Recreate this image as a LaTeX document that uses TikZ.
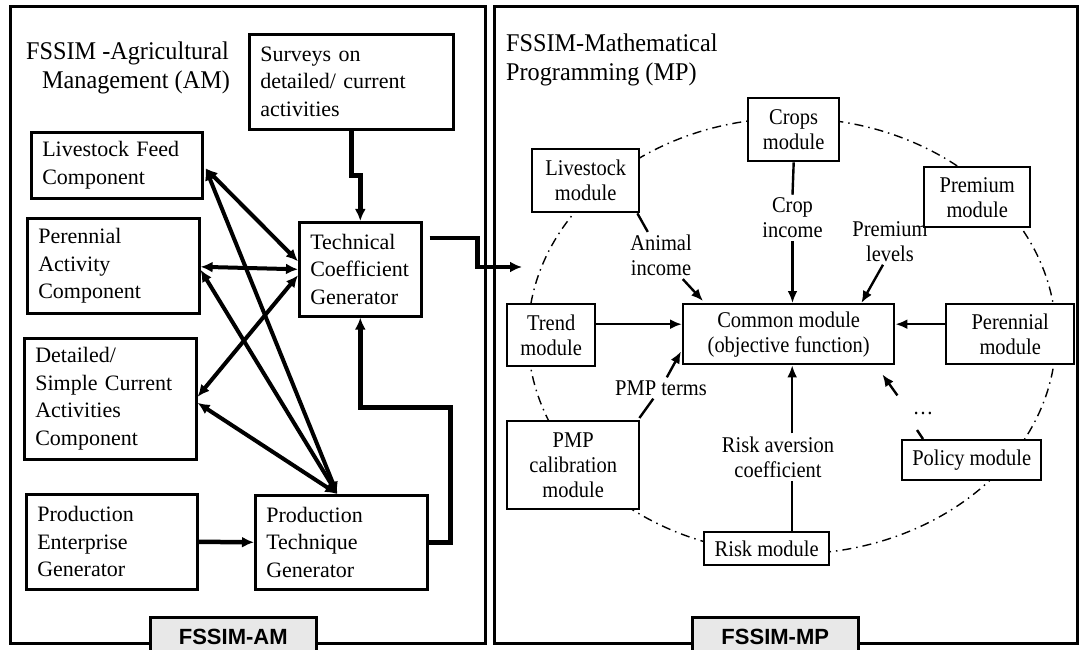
\documentclass[tikz,border=0pt]{standalone}
\usepackage{fontspec}
\setmainfont{Liberation Serif}
\setsansfont{Liberation Sans}
\newfontfamily\narrowserif[FakeStretch=0.91]{Liberation Serif}
\newfontfamily\titleserif[FakeStretch=0.95]{Liberation Serif}
\usetikzlibrary{arrows.meta,calc}

\begin{document}
\begin{tikzpicture}[x=1pt,y=-1pt,
  frame/.style={draw, line width=3pt},
  tag/.style={draw, line width=2.5pt, fill=black!9, anchor=north west, inner sep=0pt,
    font=\sffamily\bfseries\fontsize{22}{26}\selectfont},
  title/.style={anchor=base west, inner sep=0pt, font=\titleserif\fontsize{25.5}{29}\selectfont},
  lbox/.style={draw, line width=2.6pt, fill=white, anchor=north west, align=left,
    inner xsep=11pt, inner ysep=0pt, font=\fontsize{22}{27.5}\selectfont},
  rbox/.style={draw, line width=2.4pt, fill=white, anchor=north west, align=center,
    inner sep=0pt, font=\narrowserif\fontsize{22.5}{25}\selectfont},
  lbl/.style={align=center, inner sep=3pt, font=\narrowserif\fontsize{22.5}{25}\selectfont},
  thk/.style={line width=4.5pt, -{Latex[length=12pt,width=11pt]}},
  thkboth/.style={line width=4pt, {Latex[length=12pt,width=11pt]}-{Latex[length=12pt,width=11pt]}},
  rline/.style={line width=2.4pt},
  thn/.style={line width=2.4pt, -{Latex[length=12pt,width=10pt]}},
  dashdot/.style={line width=1.4pt, dash pattern=on 9pt off 5pt on 1.5pt off 5pt},
]
\clip (0,0) rectangle (1080,650);

% two panels
\draw[frame] (10,7) rectangle (485.5,643);
\draw[frame] (494,7) rectangle (1077,643);

% ---------------- Agricultural Management panel ----------------
\node[title] (amt1) at (26,60) {FSSIM -Agricultural};
\node[title] (amt2) at (42,89) {Management (AM)};

\node[lbox, minimum width=204pt, minimum height=95pt, text width=182pt] (surveys) at (248,33)
  {Surveys on\\detailed/ current\\activities};
\node[lbox, minimum width=171pt, minimum height=66pt, text width=149pt] (lfeed) at (30,131)
  {Livestock Feed\\Component};
\node[lbox, minimum width=172pt, minimum height=95pt, text width=150pt] (peren) at (26,217)
  {Perennial\\Activity\\Component};
\node[lbox, minimum width=122pt, minimum height=94pt, text width=100pt] (tcg) at (298,221)
  {Technical\\Coefficient\\Generator};
\node[lbox, minimum width=172pt, minimum height=121pt, text width=150pt] (detail) at (23,337)
  {Detailed/\\Simple Current\\Activities\\Component};
\node[lbox, minimum width=171pt, minimum height=95pt, text width=149pt] (peg) at (25,493)
  {Production\\Enterprise\\Generator};
\node[lbox, minimum width=172pt, minimum height=94pt, text width=150pt] (ptg) at (254,494)
  {Production\\Technique\\Generator};

\coordinate (mpin) at (522,267);

\draw[thk] (surveys.south) -- ++(0,45) -| (tcg.north);
\draw[thk] ($(tcg.north east)+(7,17)$) -- ++(48,0) |- (mpin);
\draw[thk] (ptg.east) -- ++(22,0) |- ($(tcg.south)+(0,90)$) -- (tcg.south);
\draw[thk] (peg.east) -- (ptg.west);

\draw[thkboth] ($(lfeed.east)+(2,3)$) -- ($(tcg.west)+(0,-8)$);
\draw[thkboth] ($(peren.east)+(0,1)$) -- (tcg.west);
\draw[thkboth] ($(tcg.west)+(0,6)$) -- ($(detail.east)+(0,-2)$);
\draw[thkboth] ($(ptg.north)+(-4,0)$) -- ($(lfeed.east)+(2,3)$);
\draw[thkboth] ($(ptg.north)+(-4,0)$) -- ($(peren.east)+(0,4)$);
\draw[thkboth] ($(ptg.north)+(-4,0)$) -- ($(detail.east)+(0,4)$);

\node[tag, minimum width=166pt, minimum height=40pt] (amtag) at (149,616) {FSSIM-AM};

% ---------------- Mathematical Programming panel ----------------
\node[title] (mpt1) at (506,52) {FSSIM-Mathematical};
\node[title] (mpt2) at (506,81) {Programming (MP)};

\draw[dashdot] (792,336) ellipse [x radius=264pt, y radius=218pt];

\node[lbl] (cropinc) at (792.5,218) {Crop\\income};
\node[lbl] (animal) at (661,255.5) {Animal\\income};
\node[lbl] (premlev) at (890,241.5) {Premium\\levels};
\node[lbl] (pmpterms) at (661,388) {PMP terms};
\node[lbl] (riskav) at (778,457) {Risk aversion\\coefficient};
\node[lbl, inner sep=1pt] (dots) at (923,413) {\dots};

\node[rbox, minimum width=91pt, minimum height=63pt] (crops) at (747,97) {Crops\\module};
\node[rbox, minimum width=107pt, minimum height=63pt] (lvs) at (531,148) {Livestock\\module};
\node[rbox, minimum width=106pt, minimum height=60pt] (prem) at (923,166) {Premium\\module};
\node[rbox, minimum width=88pt, minimum height=62pt] (trend) at (506,303) {Trend\\module};
\node[rbox, minimum width=211pt, minimum height=60pt] (common) at (682,303) {Common module\\(objective function)};
\node[rbox, minimum width=128pt, minimum height=60pt] (perenm) at (945,303) {Perennial\\module};
\node[rbox, minimum width=132pt, minimum height=88pt] (pmp) at (506,420) {PMP\\calibration\\module};
\node[rbox, minimum width=125pt, minimum height=33pt] (risk) at (703,531) {Risk module};
\node[rbox, minimum width=139pt, minimum height=40pt] (policy) at (901,439) {Policy module};

\draw[rline] (crops.south) -- (cropinc.north);
\draw[thn] (cropinc.south) -- (cropinc.south |- common.north);

\draw[rline] ($(lvs.south east)+(-3,0)$) -- (animal);
\draw[thn] (animal) -- ($(common.north west)+(21,-2)$);

\draw[thn] ($(premlev.south)+(-7,0)$) -- ($(common.north east)+(-34,0)$);

\draw[thn] ($(trend.east)+(0,-11)$) -- ($(common.west)+(0,-10)$);
\draw[thn] ($(perenm.west)+(0,-10)$) -- ($(common.east)+(0,-10)$);

\draw[rline] ($(pmp.north east)+(-1,-2)$) -- (pmpterms);
\draw[thn] (pmpterms) -- ($(common.south west)+(-1,-14)$);

\coordinate (rk) at ($(risk.north)+(25.5,0)$);
\draw[rline] (rk) -- (rk |- riskav.south);
\draw[thn] (rk |- riskav.north) -- (rk |- common.south);

\coordinate (polup) at ($(policy.north west)+(16,-9)$);
\coordinate (polend) at ($(common.south east)+(-13,9)$);
\coordinate (polarr) at ($(polend)+(15,21)$);
\draw[rline] ($(policy.north west)+(22,0)$) -- (polup);
\draw[thn] (polarr) -- (polend);

\node[tag, minimum width=166pt, minimum height=40pt] (mptag) at (691,616) {FSSIM-MP};
\end{tikzpicture}
\end{document}
